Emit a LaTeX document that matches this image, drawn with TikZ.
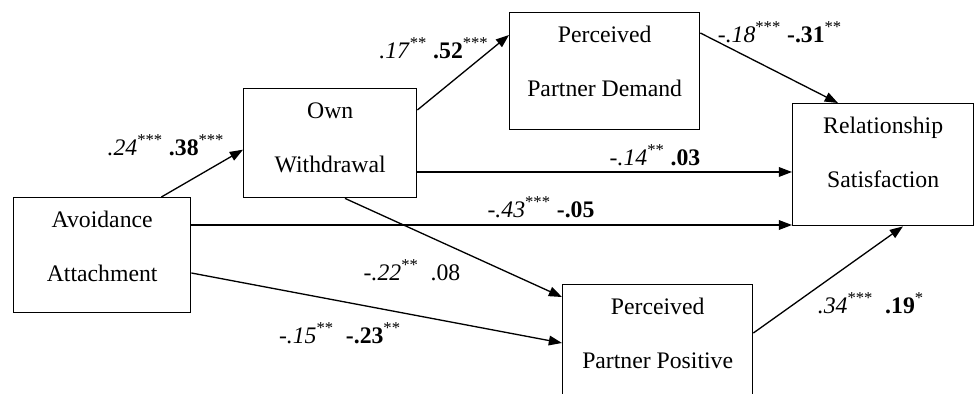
\documentclass[tikz,border=0pt]{standalone}
\usepackage{fontspec}
\setmainfont{Liberation Serif}
\usetikzlibrary{arrows.meta}

\tikzset{
  box/.style={draw, line width=0.8pt, anchor=north west, align=center,
    inner xsep=0pt, inner ysep=0pt, text height=1.68cm,
    font=\fontsize{13.5pt}{30.7pt}\selectfont},
  arr/.style={-{Triangle[length=7.5pt,width=5.5pt]}, line width=0.75pt},
  coef/.style={anchor=base, inner sep=0pt, font=\fontsize{13.5pt}{16pt}\selectfont}
}

\begin{document}
\begin{tikzpicture}[x=0.02cm, y=-0.02cm]

\useasboundingbox (0,0) rectangle (974,393);
\clip (0,0) rectangle (974,393);

\node[box, minimum width=3.54cm, text depth=0.62cm] (avoid) at (13,197) {Avoidance\\Attachment};
\node[box, minimum width=3.46cm, text depth=0.5cm] (own) at (243,88) {Own\\Withdrawal};
\node[box, minimum width=3.8cm, text depth=0.66cm] (ppd) at (509,12) {Perceived\\Partner Demand};
\node[box, minimum width=3.62cm, text depth=0.76cm] (rs) at (792,103) {Relationship\\Satisfaction};
\node[box, minimum width=3.8cm, text depth=0.68cm] (ppp) at (562,284) {Perceived\\Partner Positive};

\draw[arr] ([xshift=-0.6cm]avoid.north east) -- ([yshift=-0.13cm]own.west);
\draw[arr] ([yshift=-0.44cm]own.north east) -- ([yshift=-0.46cm]ppd.north west);
\draw[arr] ([yshift=-0.42cm]ppd.north east) -- ([xshift=0.92cm]rs.north west);
\draw[arr] ([yshift=-1.68cm]own.north east) coordinate (ow) -- (ow -| rs.west);
\draw[arr] ([yshift=-0.56cm]avoid.north east) coordinate (av) -- (av -| rs.west);
\draw[arr] ([xshift=2.04cm]own.south west) -- ([yshift=-0.26cm]ppp.north west);
\draw[arr] ([yshift=-1.52cm]avoid.north east) -- ([yshift=-1.18cm]ppp.north west);
\draw[arr] ([yshift=-0.98cm]ppp.north east) -- ([xshift=2.22cm]rs.south west);

% path coefficients
\node[coef] (c1) at (166,155) {\textit{.24}\textsuperscript{***} \textbf{.38}\textsuperscript{***}};
\node[coef] (c2) at (434,58) {\textit{.17}\textsuperscript{**} \textbf{.52}\textsuperscript{***}};
\node[coef] (c3) at (780,42) {\textit{-.18}\textsuperscript{***} \textbf{-.31}\textsuperscript{**}};
\node[coef] (c4) at (655,165) {\textit{-.14}\textsuperscript{**} \textbf{.03}};
\node[coef] (c5) at (541,217) {\textit{-.43}\textsuperscript{***} \textbf{-.05}};
\node[coef] (c6) at (412,280) {\textit{-.22}\textsuperscript{**}\ \ .08};
\node[coef] (c7) at (340,343) {\textit{-.15}\textsuperscript{**}\ \ \textbf{-.23}\textsuperscript{**}};
\node[coef] (c8) at (871,313) {\textit{.34}\textsuperscript{***}\ \ \textbf{.19}\textsuperscript{*}};

\end{tikzpicture}
\end{document}
